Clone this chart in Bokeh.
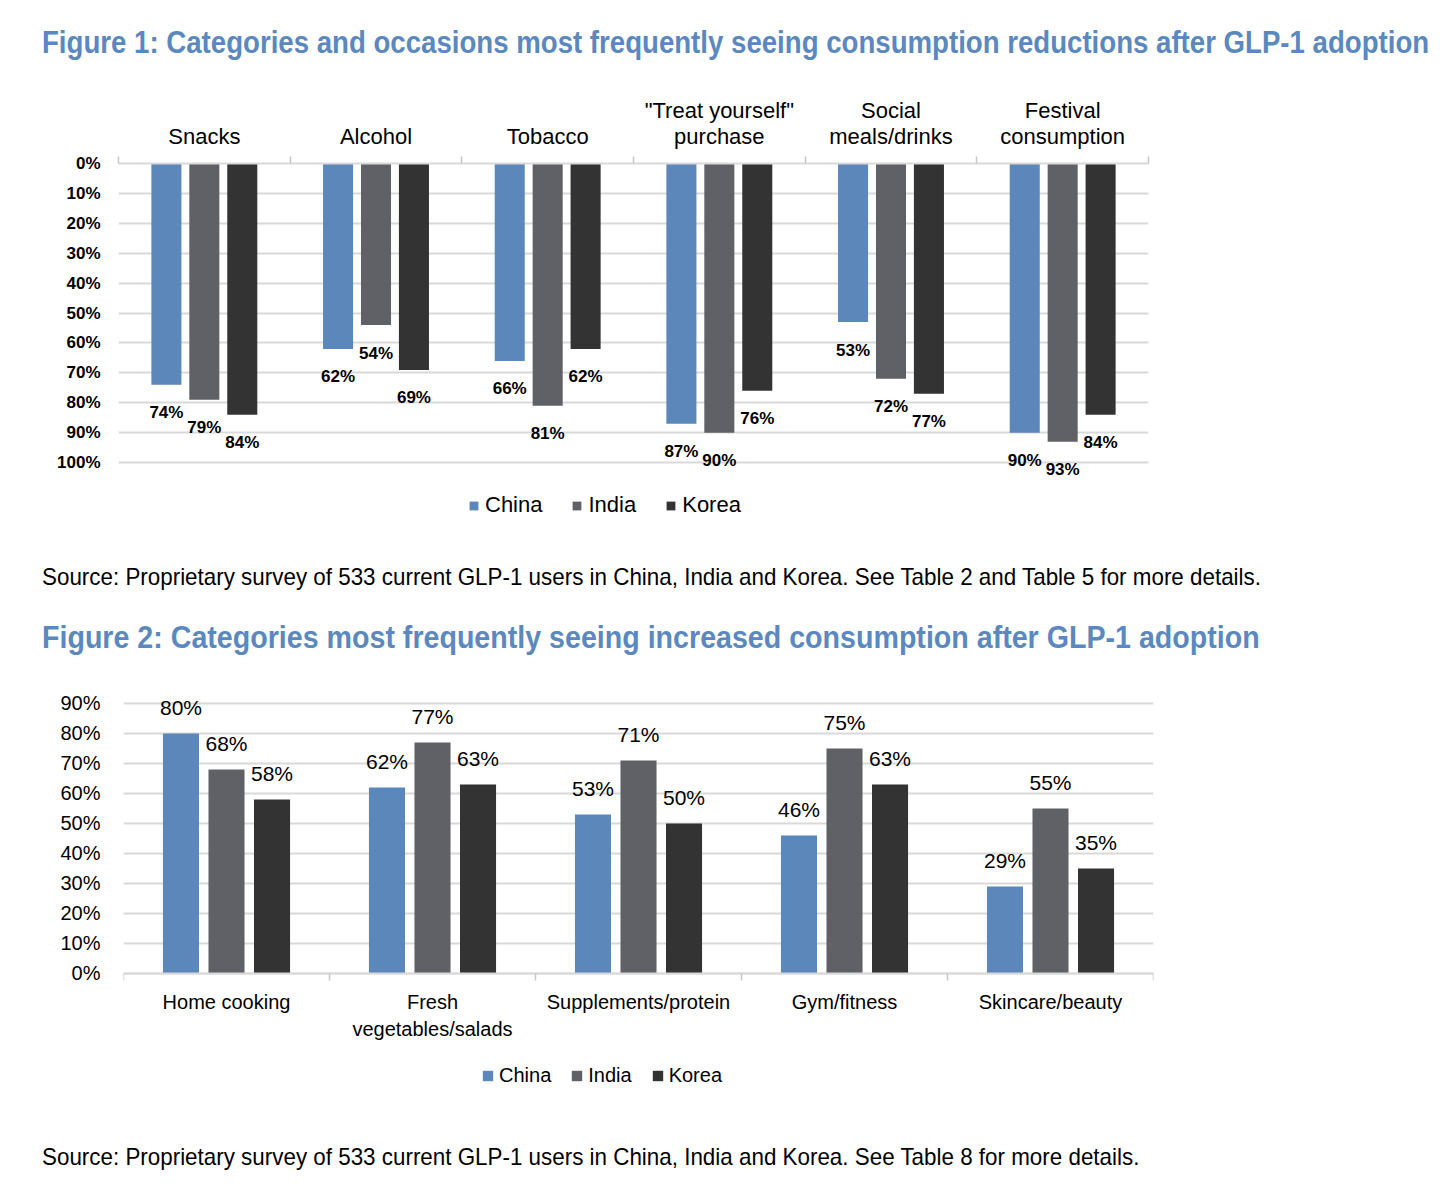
from bokeh.plotting import figure
from bokeh.models import (Range1d, FixedTicker, Div, Legend, LegendItem,
                          ColumnDataSource, LabelSet)
from bokeh.layouts import column
from bokeh.embed import file_html
from bokeh.resources import INLINE
from bokeh.core.properties import value

# ---------------- data ----------------
series = ["China", "India", "Korea"]
colors = ["#5B87BA", "#606166", "#333333"]

fig1_categories = ["Snacks", "Alcohol", "Tobacco", "\"Treat yourself\"\npurchase",
                   "Social\nmeals/drinks", "Festival\nconsumption"]
fig1_china = [74, 62, 66, 87, 53, 90]
fig1_india = [79, 54, 81, 90, 72, 93]
fig1_korea = [84, 69, 62, 76, 77, 84]
fig1_yticks = [0, 10, 20, 30, 40, 50, 60, 70, 80, 90, 100]

fig2_categories = ["Home cooking", "Fresh\nvegetables/salads", "Supplements/protein",
                   "Gym/fitness", "Skincare/beauty"]
fig2_china = [80, 62, 53, 46, 29]
fig2_india = [68, 77, 71, 75, 55]
fig2_korea = [58, 63, 50, 63, 35]
fig2_yticks = [0, 10, 20, 30, 40, 50, 60, 70, 80, 90]

title1_text = "Figure 1: Categories and occasions most frequently seeing consumption reductions after GLP-1 adoption"
source1_text = "Source: Proprietary survey of 533 current GLP-1 users in China, India and Korea. See Table 2 and Table 5 for more details."
title2_text = "Figure 2: Categories most frequently seeing increased consumption after GLP-1 adoption"
source2_text = "Source: Proprietary survey of 533 current GLP-1 users in China, India and Korea. See Table 8 for more details."

FONT = "Liberation Sans"
TITLE_COLOR = "#5B88BF"
GRID = "#D9D9D9"
OFFSETS = [-0.221, 0.0, 0.221]
BAR_W = 0.175


def text_div(txt, height, pad_top, size, scale, bold=False, color="#000000", line=None):
    line = line or int(size * 1.17)
    inner = ("display:block;width:max-content;white-space:nowrap;margin:0;padding:0;"
             "font-family:'Liberation Sans',Arial,sans-serif;font-size:%dpx;font-weight:%s;"
             "color:%s;line-height:%dpx;transform:scaleX(%.3f);transform-origin:0 0;") % (
        size, "bold" if bold else "normal", color, line, scale)
    outer = "margin:0;padding:%dpx 0 0 34px;line-height:%dpx;font-size:%dpx;" % (pad_top, line, size)
    return Div(text='<div style="%s"><div style="%s">%s</div></div>' % (outer, inner, txt),
               width=1424, height=height, margin=(0, 0, 0, 0))


def build(categories, values_list, y_range, yticks, axis_loc, height, borders,
          tick_size, tick_style, ytick_standoff,
          cat_size, cat_standoff, cat_line,
          lab_size, lab_style, lab_offset,
          leg_size, leg_glyph, leg_loc, leg_spacing, leg_standoff, fixed_axis):
    n = len(categories)
    bl, br, bt, bb = borders
    p = figure(width=1424, height=height, x_range=Range1d(0, n), y_range=y_range,
               x_axis_location=axis_loc, toolbar_location=None, output_backend="svg",
               min_border_left=bl, min_border_right=br, min_border_top=bt,
               min_border_bottom=bb)
    p.outline_line_color = None
    p.background_fill_color = "white"
    p.border_fill_color = "white"

    centers = [i + 0.5 for i in range(n)]
    bounds = [float(i) for i in range(n + 1)]
    xa = p.xaxis[0]
    if fixed_axis is not None:
        xa.fixed_location = fixed_axis
    xa.ticker = FixedTicker(ticks=centers, minor_ticks=bounds)
    xa.major_label_overrides = {c: lab for c, lab in zip(centers, categories)}
    xa.major_tick_line_color = None
    xa.major_tick_out = 0
    xa.major_tick_in = 0
    xa.minor_tick_line_color = "#C8C8C8"
    xa.minor_tick_line_width = 1.5
    xa.minor_tick_out = 7
    xa.minor_tick_in = 0
    xa.axis_line_color = GRID
    xa.axis_line_width = 2
    xa.major_label_text_font = FONT
    xa.major_label_text_font_size = cat_size
    xa.major_label_text_color = "#000000"
    xa.major_label_standoff = cat_standoff
    xa.major_label_orientation = "horizontal"
    if cat_line is not None:
        xa.major_label_text_line_height = cat_line

    ya = p.yaxis[0]
    ya.ticker = FixedTicker(ticks=yticks)
    ya.major_label_overrides = {t: "%d%%" % t for t in yticks}
    ya.axis_line_color = None
    ya.major_tick_line_color = None
    ya.minor_tick_line_color = None
    ya.major_tick_out = 0
    ya.major_label_text_font = FONT
    ya.major_label_text_font_size = tick_size
    ya.major_label_text_font_style = tick_style
    ya.major_label_text_color = "#000000"
    ya.major_label_standoff = ytick_standoff

    p.xgrid.grid_line_color = None
    p.ygrid.ticker = FixedTicker(ticks=yticks)
    p.ygrid.grid_line_color = GRID
    p.ygrid.grid_line_width = 2

    items = []
    for j, (name, vals, col) in enumerate(zip(series, values_list, colors)):
        src = ColumnDataSource(dict(
            x=[c + OFFSETS[j] for c in centers],
            top=vals,
            label=["%d%%" % v for v in vals],
        ))
        r = p.vbar(x="x", top="top", bottom=0, width=BAR_W, source=src,
                   fill_color=col, line_color=None)
        p.add_layout(LabelSet(x="x", y="top", text="label", source=src,
                              y_offset=lab_offset, text_align="center",
                              text_baseline="middle", text_font=value(FONT),
                              text_font_size=value(lab_size),
                              text_font_style=value(lab_style),
                              text_color="#000000"))
        items.append(LegendItem(label=name, renderers=[r]))

    leg = Legend(items=items, location=leg_loc, orientation="horizontal",
                 glyph_width=leg_glyph, glyph_height=leg_glyph,
                 label_standoff=leg_standoff, spacing=leg_spacing, padding=0, margin=0,
                 border_line_color=None, background_fill_alpha=0,
                 label_text_font=FONT, label_text_font_size=leg_size,
                 label_text_color="#000000", label_height=24)
    p.add_layout(leg)
    return p


# Figure 1: frame 370 px tall, 0% at top, 100% at 299 px
p1 = build(fig1_categories, [fig1_china, fig1_india, fig1_korea],
           Range1d(123.7, 0), fig1_yticks, "above", 467, (110, 284, 85, 12),
           "17px", "bold", 18,
           "22px", 8, 1.03,
           "17px", "bold", -28,
           "22px", 11, (350, 15), 29, 6, None)

# Figure 2: frame 405 px tall (3 px per %), 0% line 283 px below frame top
p2 = build(fig2_categories, [fig2_china, fig2_india, fig2_korea],
           Range1d(-40.67, 94.33), fig2_yticks, "below", 455, (110, 284, 25, 25),
           "20px", "normal", 23,
           "20px", 11, None,
           "21px", "normal", 26,
           "20px", 13, (358, 8), 19, 5, 0)
p2.margin = (0, 0, 0, 5)

t1 = text_div(title1_text, 70, 16, 32, 0.863, bold=True, color=TITLE_COLOR, line=36)
s1 = text_div(source1_text, 60, 18, 24, 0.933, line=28)
t2 = text_div(title2_text, 60, 14, 32, 0.894, bold=True, color=TITLE_COLOR, line=36)
s2 = text_div(source2_text, 60, 23, 24, 0.933, line=28)

layout = column(t1, p1, s1, t2, p2, s2, spacing=0, margin=(8, 0, 0, 8))

open("out.html", "w").write(file_html(layout, INLINE))
